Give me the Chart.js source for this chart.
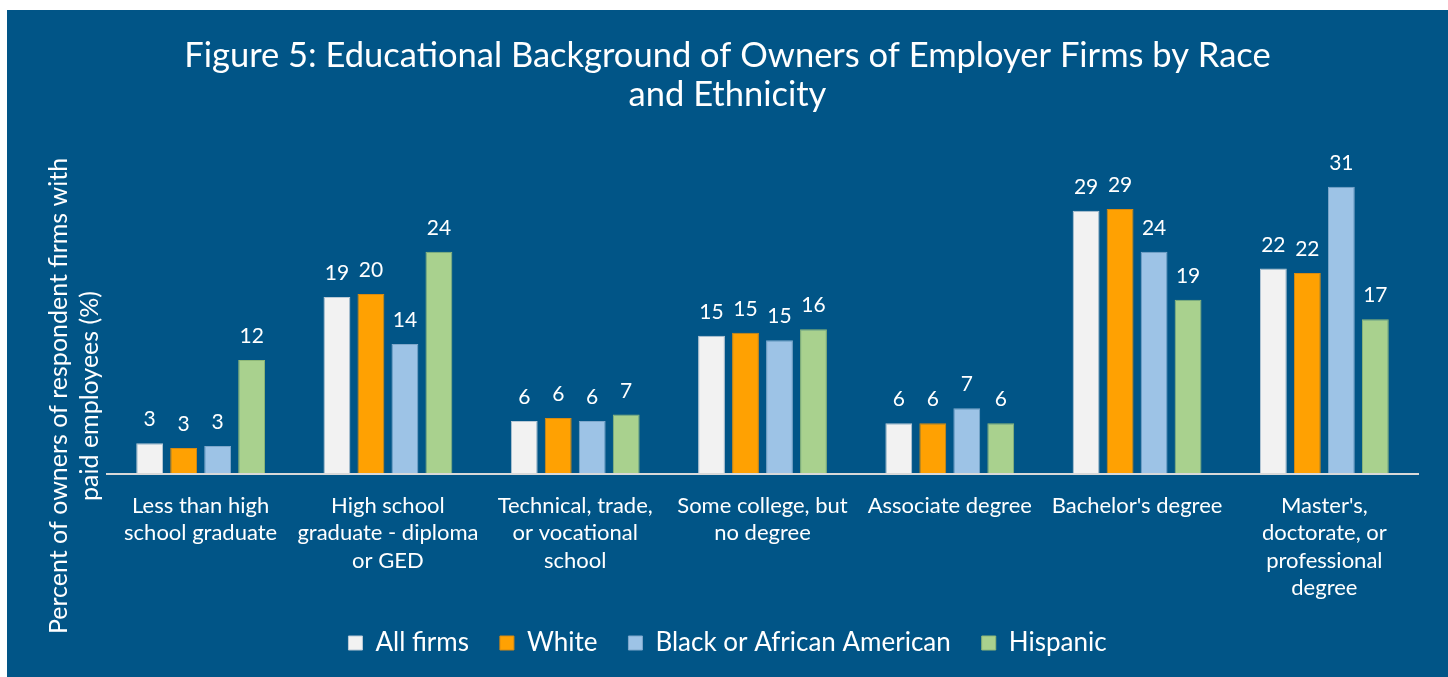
<!DOCTYPE html>
<html>
<head>
<meta charset="utf-8">
<title>Educational Background of Owners of Employer Firms</title>
<script src="https://cdn.jsdelivr.net/npm/chart.js@4.4.1/dist/chart.umd.min.js"></script>
<style>
  body { margin: 0; background: #ffffff; }
  #panel {
    position: absolute;
    left: 7px;
    top: 10px;
    width: 1441px;
    height: 667px;
    background: #015587;
  }
</style>
</head>
<body>
<div id="panel"><canvas id="myChart"></canvas></div>
<script>
// education levels (x axis), already split in lines
var categories = [
  ["Less than high", "school graduate"],
  ["High school", "graduate - diploma", "or GED"],
  ["Technical, trade,", "or vocational", "school"],
  ["Some college, but", "no degree"],
  ["Associate degree"],
  ["Bachelor's degree"],
  ["Master's,", "doctorate, or", "professional", "degree"]
];

// percent of owners, by race / ethnicity
var allFirms = [3.36, 19.34, 5.79, 15.11, 5.54, 28.78, 22.45];
var white = [2.84, 19.67, 6.12, 15.45, 5.54, 28.96, 21.97];
var black = [3.06, 14.21, 5.79, 14.61, 7.18, 24.3, 31.4];
var hispanic = [12.46, 24.3, 6.5, 15.81, 5.54, 19.05, 16.91];

var seriesNames = ["All firms", "White", "Black or African American", "Hispanic"];

var titleLines = [
  "Figure 5: Educational Background of Owners of Employer Firms by Race",
  "and Ethnicity"
];
var yTitleLines = ["Percent of owners of respondent firms with", "paid employees (%)"];

var fontName = "Lato";

// numbers above each bar
var valueLabels = {
  id: "valueLabels",
  afterDatasetsDraw: function (chart) {
    var ctx = chart.ctx;
    ctx.save();
    ctx.font = "21px " + fontName;
    ctx.fillStyle = "#ffffff";
    ctx.textAlign = "center";
    ctx.textBaseline = "alphabetic";
    chart.data.datasets.forEach(function (ds, i) {
      chart.getDatasetMeta(i).data.forEach(function (bar, j) {
        ctx.fillText(Math.round(ds.data[j]), bar.x, bar.y - 17);
      });
    });
    ctx.restore();
  }
};

// rotated axis title, two centred lines
var yTitle = {
  id: "yTitle",
  afterDraw: function (chart) {
    var ctx = chart.ctx;
    ctx.save();
    ctx.font = "25px " + fontName;
    ctx.fillStyle = "#ffffff";
    ctx.textAlign = "center";
    ctx.textBaseline = "alphabetic";
    ctx.translate(0, 386);
    ctx.rotate(-Math.PI / 2);
    ctx.fillText(yTitleLines[0], 0, 60);
    ctx.fillText(yTitleLines[1], 0, 91);
    ctx.restore();
  }
};

// the legend sits a bit closer to the category labels
var legendLift = {
  id: "legendLift",
  afterLayout: function (chart) {
    chart.legend.top -= 11;
    chart.legend.bottom -= 11;
  }
};

var ctx = document.getElementById("myChart");

var data = {
  labels: categories,
  datasets: [
    {
      label: seriesNames[0],
      data: allFirms,
      backgroundColor: "#f2f2f2",
      borderColor: "#b9c9d6",
      borderWidth: 1
    },
    {
      label: seriesNames[1],
      data: white,
      backgroundColor: "#ffa102",
      borderColor: "#d98a10",
      borderWidth: 1
    },
    {
      label: seriesNames[2],
      data: black,
      backgroundColor: "#9dc3e6",
      borderColor: "#7fa8cc",
      borderWidth: 1
    },
    {
      label: seriesNames[3],
      data: hispanic,
      backgroundColor: "#a9d18e",
      borderColor: "#8fb878",
      borderWidth: 1
    }
  ]
};

var config = {
  type: "bar",
  data: data,
  options: {
    responsive: true,
    maintainAspectRatio: false,
    animation: false,
    layout: {
      padding: { left: 30, right: 30, top: 0, bottom: 0 }
    },
    datasets: {
      bar: {
        categoryPercentage: 0.726,
        barPercentage: 0.79
      }
    },
    scales: {
      x: {
        grid: { display: false },
        border: { display: true, color: "#d9d9d9", width: 2, z: 1 },
        ticks: {
          color: "#ffffff",
          padding: 10,
          maxRotation: 0,
          autoSkip: false,
          font: { family: fontName, size: 22, lineHeight: 1.245 }
        },
        afterFit: function (scale) {
          scale.height = 136;
        }
      },
      y: {
        min: 0,
        max: 32,
        grid: { display: false },
        border: { display: false },
        ticks: { display: false },
        afterFit: function (scale) {
          scale.width = 70;
        }
      }
    },
    plugins: {
      title: {
        display: true,
        text: titleLines,
        color: "#ffffff",
        font: { family: fontName, size: 34.5, weight: "normal", lineHeight: 1.14 },
        padding: { top: 26, bottom: 66.6 }
      },
      legend: {
        position: "bottom",
        labels: {
          color: "#ffffff",
          boxWidth: 14,
          boxHeight: 14,
          padding: 31,
          font: { family: fontName, size: 26 }
        }
      },
      tooltip: { enabled: false }
    }
  },
  plugins: [valueLabels, yTitle, legendLift]
};

var myChart = new Chart(ctx, config);
</script>
</body>
</html>
